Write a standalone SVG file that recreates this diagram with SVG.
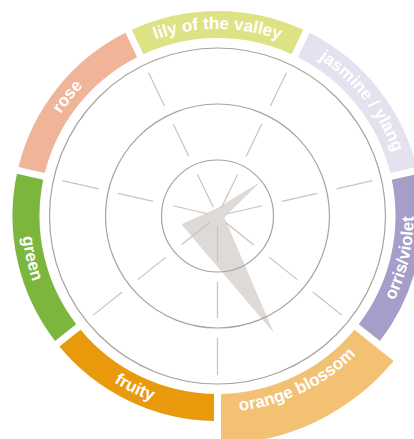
<svg xmlns="http://www.w3.org/2000/svg" width="414" height="439" viewBox="0 0 414 439">
<style>
.lbl{font-family:"Liberation Sans",Arial,sans-serif;font-weight:bold;font-size:17px;fill:#ffffff}
.ring{fill:none;stroke:#aaa19e;stroke-width:1.2}
.spoke{fill:none;stroke:#c9c2be;stroke-width:1.2}
</style>
<defs>
<path id="band" d="M131.72,29.81 A205,205 0 0 1 303.28,29.81 L291.56,54.14 A178,178 0 0 0 143.44,54.14 Z"/>
<path id="bandBig" d="M121.74,9.08 A228,228 0 0 1 313.26,9.08 L291.56,54.14 A178,178 0 0 0 143.44,54.14 Z"/>
<path id="arcCW" d="M55.55,122.5 A187,187 0 0 1 379.45,122.5"/>
<path id="arcCCW" d="M387.24,118 A196,196 0 0 0 47.76,118"/>
<path id="spoke" d="M217.5,226 V262 M217.5,282 V318 M217.5,338 V375"/>
</defs>
<rect width="414" height="439" fill="#ffffff"/>
<g id="lily">
<use href="#band" fill="#dde385"/>
<text class="lbl"><textPath href="#arcCW" startOffset="50%" text-anchor="middle">lily of the valley</textPath></text>
</g>
<g id="jasmine" transform="rotate(51.4286 217.5 216)">
<use href="#band" fill="#e4e2ef"/>
<text class="lbl"><textPath href="#arcCW" startOffset="50%" text-anchor="middle">jasmine / ylang</textPath></text>
</g>
<g id="orris" transform="rotate(102.857 217.5 216)">
<use href="#band" fill="#a69ec9"/>
<text class="lbl"><textPath href="#arcCCW" startOffset="50%" text-anchor="middle">orris/violet</textPath></text>
</g>
<g id="orange-blossom" transform="rotate(154.286 217.5 216)">
<use href="#bandBig" fill="#f2c174"/>
<text class="lbl"><textPath href="#arcCCW" startOffset="50%" text-anchor="middle">orange blossom</textPath></text>
</g>
<g id="fruity" transform="rotate(-154.286 217.5 216)">
<use href="#band" fill="#e8990c"/>
<text class="lbl"><textPath href="#arcCCW" startOffset="50%" text-anchor="middle">fruity</textPath></text>
</g>
<g id="green" transform="rotate(-102.857 217.5 216)">
<use href="#band" fill="#7db63c"/>
<text class="lbl"><textPath href="#arcCCW" startOffset="50%" text-anchor="middle">green</textPath></text>
</g>
<g id="rose" transform="rotate(-51.4286 217.5 216)">
<use href="#band" fill="#f0b498"/>
<text class="lbl"><textPath href="#arcCW" startOffset="50%" text-anchor="middle">rose</textPath></text>
</g>
<g id="profile">
<polygon points="181.4,224.2 211.25,211 217.5,208 260.5,181.7 224.3,217.6 273.9,333.1 201.9,248.4" fill="#dedad7"/>
</g>
<g id="grid">
<circle class="ring" cx="217.5" cy="216" r="56"/>
<circle class="ring" cx="217.5" cy="216" r="112"/>
<circle class="ring" cx="217.5" cy="216" r="168"/>
<use href="#spoke" class="spoke"/>
<use href="#spoke" class="spoke" transform="rotate(51.4286 217.5 216)"/>
<use href="#spoke" class="spoke" transform="rotate(102.857 217.5 216)"/>
<use href="#spoke" class="spoke" transform="rotate(154.286 217.5 216)"/>
<use href="#spoke" class="spoke" transform="rotate(-51.4286 217.5 216)"/>
<use href="#spoke" class="spoke" transform="rotate(-102.857 217.5 216)"/>
<use href="#spoke" class="spoke" transform="rotate(-154.286 217.5 216)"/>
</g>
</svg>
